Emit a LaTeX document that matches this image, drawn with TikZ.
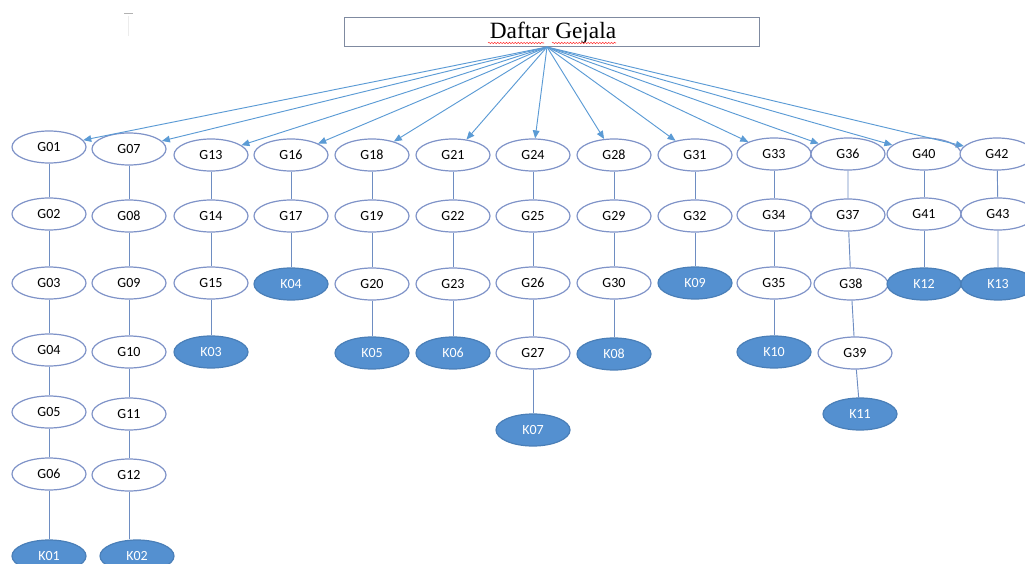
\documentclass[tikz,border=0pt]{standalone}
\usepackage{fontspec}
\usetikzlibrary{shapes.geometric,arrows.meta,decorations.pathmorphing}
\newfontfamily\gfont{Carlito}
\newfontfamily\tfont{Liberation Serif}
\definecolor{gborder}{HTML}{7F93C8}
\definecolor{kfill}{HTML}{5490D0}
\definecolor{kborder}{HTML}{4A7FB8}
\definecolor{arrowc}{HTML}{5B9BD5}
\definecolor{linkc}{HTML}{6E8DC2}
\definecolor{boxc}{HTML}{7F8AA0}
\begin{document}
\begin{tikzpicture}[x=0.75pt,y=-0.75pt,
  gnode/.style={ellipse, draw=gborder, line width=0.9pt, fill=white, minimum width=55.5pt, minimum height=24pt, inner sep=0pt, font=\gfont\fontsize{10.5}{11}\selectfont},
  knode/.style={gnode, draw=kborder, fill=kfill, text=white},
  arr/.style={draw=arrowc, line width=0.7pt, -{Triangle[length=6pt,width=5pt]}},
  link/.style={draw=linkc, line width=0.7pt},
  titlebox/.style={draw=boxc, line width=0.6pt, minimum width=311.25pt, minimum height=21.75pt, inner sep=0pt}
]
\path[use as bounding box] (0,0) rectangle (1025,564);
\clip (0,0) rectangle (1025,564);
\fill[white] (0,0) rectangle (1025,564);
% small artifact top left
\draw[gray!60, line width=0.6pt] (124,13) -- (133,13);
\draw[gray!15, line width=0.5pt] (128,16) -- (128,36);
% title
\node[titlebox] (title) at (551.5,31.5) {};
\node[font=\tfont\fontsize{17.5}{19}\selectfont, inner sep=0pt] (ttext) at (553,33) {Daftar Gejala};
\draw[red!80, line width=0.4pt, decorate, decoration={snake, segment length=2.2pt, amplitude=0.5pt}] (488,43) -- (544,43);
\draw[red!80, line width=0.4pt, decorate, decoration={snake, segment length=2.2pt, amplitude=0.5pt}] (552,43) -- (616,43);
\coordinate (src) at (547,47);
% column 1
\node[gnode] (G01) at (49,147) {G01};
\node[gnode] (G02) at (49,214) {G02};
\node[gnode] (G03) at (49,283) {G03};
\node[gnode] (G04) at (49,350) {G04};
\node[gnode] (G05) at (49,412) {G05};
\node[gnode] (G06) at (49,474) {G06};
\node[knode] (K01) at (49,556) {K01};
% column 2
\node[gnode] (G07) at (129,149) {G07};
\node[gnode] (G08) at (129,216) {G08};
\node[gnode] (G09) at (129,283) {G09};
\node[gnode] (G10) at (129,352) {G10};
\node[gnode] (G11) at (129,414) {G11};
\node[gnode] (G12) at (129,475) {G12};
\node[knode] (K02) at (137,556) {K02};
% column 3
\node[gnode] (G13) at (211,155) {G13};
\node[gnode] (G14) at (211,216) {G14};
\node[gnode] (G15) at (211,283) {G15};
\node[knode] (K03) at (211,352) {K03};
% column 4
\node[gnode] (G16) at (291,155) {G16};
\node[gnode] (G17) at (291,216) {G17};
\node[knode] (K04) at (291,284) {K04};
% column 5
\node[gnode] (G18) at (372,155) {G18};
\node[gnode] (G19) at (372,216) {G19};
\node[gnode] (G20) at (372,284) {G20};
\node[knode] (K05) at (372,353) {K05};
% column 6
\node[gnode] (G21) at (453,155) {G21};
\node[gnode] (G22) at (453,216) {G22};
\node[gnode] (G23) at (453,284) {G23};
\node[knode] (K06) at (453,353) {K06};
% column 7
\node[gnode] (G24) at (533,155) {G24};
\node[gnode] (G25) at (533,216) {G25};
\node[gnode] (G26) at (533,283) {G26};
\node[gnode] (G27) at (533,353) {G27};
\node[knode] (K07) at (533,430) {K07};
% column 8
\node[gnode] (G28) at (614,155) {G28};
\node[gnode] (G29) at (614,216) {G29};
\node[gnode] (G30) at (614,283) {G30};
\node[knode] (K08) at (614,354) {K08};
% column 9
\node[gnode] (G31) at (695,155) {G31};
\node[gnode] (G32) at (695,216) {G32};
\node[knode] (K09) at (695,283) {K09};
% column 10
\node[gnode] (G33) at (774,154) {G33};
\node[gnode] (G34) at (774,215) {G34};
\node[gnode] (G35) at (774,283) {G35};
\node[knode] (K10) at (774,352) {K10};
% column 11
\node[gnode] (G36) at (848,154) {G36};
\node[gnode] (G37) at (848,215) {G37};
\node[gnode] (G38) at (851,284) {G38};
\node[gnode] (G39) at (855,353) {G39};
\node[knode] (K11) at (860,414) {K11};
% column 12
\node[gnode] (G40) at (924,154) {G40};
\node[gnode] (G41) at (924,214) {G41};
\node[knode] (K12) at (924,284) {K12};
% column 13
\node[gnode] (G42) at (997,154) {G42};
\node[gnode] (G43) at (998,214) {G43};
\node[knode] (K13) at (998,284) {K13};
% arrows from title
\foreach \n in {G01,G07,G13,G16,G18,G21,G24,G28,G31,G33,G36,G40,G42}
  \draw[arr] (src) -- (\n);
% vertical links
\draw[link] (G01) -- (G02) (G02) -- (G03) (G03) -- (G04) (G04) -- (G05) (G05) -- (G06) (G06) -- (K01);
\draw[link] (G07) -- (G08) (G08) -- (G09) (G09) -- (G10) (G10) -- (G11) (G11) -- (G12) (G12) -- (G12 |- K02.north);
\draw[link] (G13) -- (G14) (G14) -- (G15) (G15) -- (K03);
\draw[link] (G16) -- (G17) (G17) -- (K04);
\draw[link] (G18) -- (G19) (G19) -- (G20) (G20) -- (K05);
\draw[link] (G21) -- (G22) (G22) -- (G23) (G23) -- (K06);
\draw[link] (G24) -- (G25) (G25) -- (G26) (G26) -- (G27) (G27) -- (K07);
\draw[link] (G28) -- (G29) (G29) -- (G30) (G30) -- (K08);
\draw[link] (G31) -- (G32) (G32) -- (K09);
\draw[link] (G33) -- (G34) (G34) -- (G35) (G35) -- (K10);
\draw[link] (G36) -- (G37) (G37) -- (G38) (G38) -- (G39) (G39) -- (K11);
\draw[link] (G40) -- (G41) (G41) -- (K12);
\draw[link] (G42) -- (G43) (G43) -- (K13);
\end{tikzpicture}
\end{document}
